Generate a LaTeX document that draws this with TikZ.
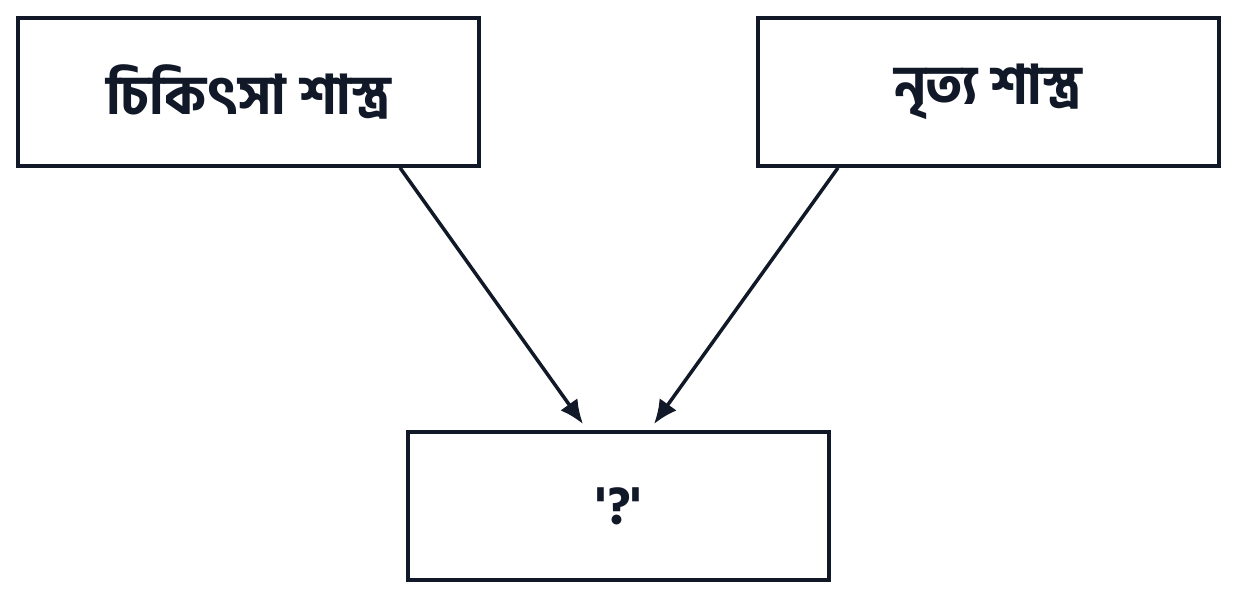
\documentclass[tikz,border=0pt]{standalone}
\usepackage{fontspec}
\newfontfamily\bnfont[Script=Bengali]{Hind Siliguri Bold}
\usetikzlibrary{arrows.meta}
\definecolor{ink}{HTML}{111827}
\begin{document}
\begin{tikzpicture}[x=1pt,y=-1pt,
  box/.style={draw=ink,line width=3.5pt,fill=white,inner sep=0pt,font=\bnfont\fontsize{54}{64}\selectfont,text=ink},
  conn/.style={draw=ink,line width=3.5pt,-{Latex[length=24pt,width=21pt]}}]
\useasboundingbox (0,0) rectangle (1238,600);
\node[box,minimum width=461pt,minimum height=148pt] (a) at (248.5,92) {চিকিৎসা শাস্ত্র};
\node[box,minimum width=461pt,minimum height=148pt] (b) at (988.5,92) {নৃত্য শাস্ত্র};
\node[box,minimum width=421pt,minimum height=148pt] (c) at (618.5,506) {'?'};
\coordinate (ta) at (583,424);
\coordinate (tb) at (654,424);
\draw[conn] (a.south -| 400,0) -- (ta);
\draw[conn] (b.south -| 838,0) -- (tb);
\end{tikzpicture}
\end{document}
